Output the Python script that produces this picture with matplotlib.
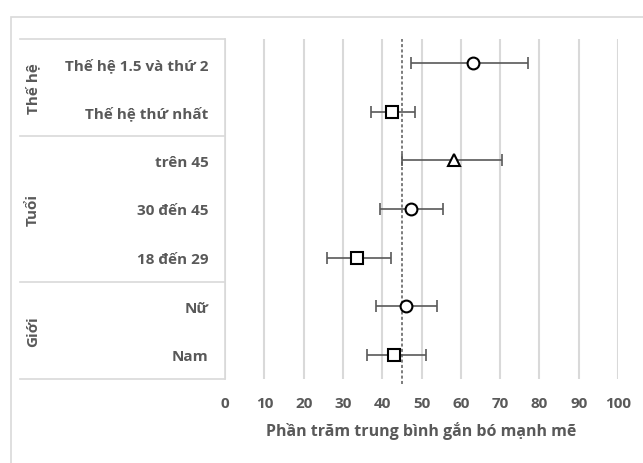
import numpy as np
import matplotlib
matplotlib.use('Agg')
import matplotlib.pyplot as plt
from matplotlib.patches import Rectangle

# data (rows top -> bottom)
labels = ['Thế hệ 1.5 và thứ 2', 'Thế hệ thứ nhất', 'trên 45', '30 đến 45',
          '18 đến 29', 'Nữ', 'Nam']
means = [63.2, 42.6, 58.3, 47.3, 33.5, 46.1, 43.1]
lows = [47.2, 37.2, 45.1, 39.4, 26.0, 38.3, 36.1]
highs = [77.0, 48.3, 70.4, 55.5, 42.2, 54.0, 51.1]
markers = ['o', 's', '^', 'o', 's', 'o', 's']
groups = ['Thế hệ', 'Tuổi', 'Giới']
group_rows = [(0, 1), (2, 4), (5, 6)]
ref_value = 45
xticks = [0, 10, 20, 30, 40, 50, 60, 70, 80, 90, 100]

plt.rcParams['font.family'] = ['Open Sans', 'DejaVu Sans']
txt = '#595959'
grid_c = '#d9d9d9'
fs = 11

fig = plt.figure(figsize=(6.43, 4.64), dpi=100)
ax = fig.add_axes([0.35, 0.181, 0.6112, 0.733])

# chart border
fig.patches.append(Rectangle((0.017, -0.2), 1.2, 1.161, transform=fig.transFigure,
                             fill=False, edgecolor=grid_c, lw=1.2))

y = np.arange(len(labels))
for i in range(len(labels)):
    ax.errorbar(means[i], y[i], xerr=[[means[i] - lows[i]], [highs[i] - means[i]]],
                fmt='none', ecolor='#595959', elinewidth=1.2, capsize=4, capthick=1.2,
                zorder=3)
    ax.plot(means[i], y[i], marker=markers[i], ms=8.5 if markers[i] != 's' else 8,
            mfc='white', mec='black', mew=1.5, ls='none', zorder=4)

ax.axvline(ref_value, ymin=-0.015, ymax=1, color='#595959', lw=1.1,
           ls=(0, (2, 1.5)), zorder=2, clip_on=False)

ax.set_xlim(0, 100)
ax.set_ylim(len(labels) - 0.5, -0.5)
ax.set_xticks(xticks)
ax.set_xticklabels([str(t) for t in xticks], color=txt, fontsize=fs, fontweight='bold')
ax.set_yticks(y)
ax.set_yticklabels(labels, color=txt, fontsize=fs, fontweight='bold')
ax.tick_params(axis='y', length=0, pad=12)
ax.tick_params(axis='x', length=0, pad=12.5)
ax.grid(axis='x', color=grid_c, lw=1.5, zorder=0)
ax.set_axisbelow(True)
for s in ['top', 'right', 'bottom']:
    ax.spines[s].set_visible(False)
ax.spines['left'].set_color(grid_c)
ax.spines['left'].set_linewidth(1.2)
ax.set_xlabel('Phần trăm trung bình gắn bó mạnh mẽ', color=txt, fontsize=11.5,
              fontweight='bold', labelpad=8)

# group separators and labels
trans = ax.get_yaxis_transform()
x_left = -0.522
for b in [-0.5, 1.5, 4.5, 6.5]:
    ax.plot([x_left, 0], [b, b], color=grid_c, lw=1.2, transform=trans, clip_on=False)
for g, (r0, r1) in zip(groups, group_rows):
    ax.text(-0.489, (r0 + r1) / 2, g, rotation=90, ha='center', va='center',
            color=txt, fontsize=fs, fontweight='bold', transform=trans)

fig.savefig('out.png', dpi=100)
